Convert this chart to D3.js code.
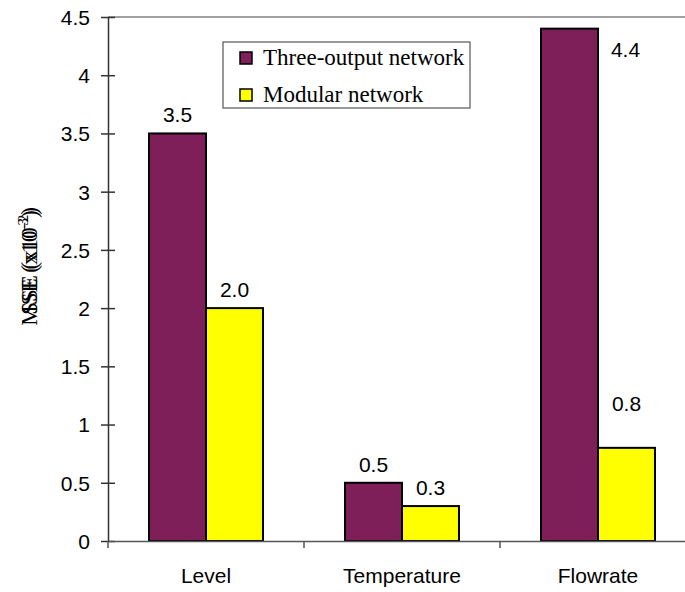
<!DOCTYPE html>
<html>
<head>
<meta charset="utf-8">
<script src="https://cdn.jsdelivr.net/npm/d3@7"></script>
<style>
  body { margin: 0; background: #fff; }
  svg { display: block; }
</style>
</head>
<body>
<svg id="chart" width="685" height="592"></svg>
<script>
// Error per output variable for the two network designs
const categories = ["Level", "Temperature", "Flowrate"];
const seriesNames = ["Three-output network", "Modular network"];
const threeOutput = [3.5, 0.5, 4.4];
const modular = [2.0, 0.3, 0.8];
const yTicks = [0, 0.5, 1, 1.5, 2, 2.5, 3, 3.5, 4, 4.5];

const colors = ["#7f1f5a", "#ffff00"];
const series = [threeOutput, modular];

// a couple of value labels are nudged off their bars
const labelNudge = { "0-2": [56, 39], "1-2": [0, -26] };

const svg = d3.select("#chart");
const plotLeft = 108, plotRight = 696, plotTop = 17, plotBottom = 541;
const sans = "Liberation Sans, Arial, sans-serif";
const serif = "Liberation Serif, Times New Roman, serif";

const x = d3.scaleBand().domain(categories).range([plotLeft, plotRight]).paddingInner(0).paddingOuter(0);
const xInner = d3.scaleBand().domain([0, 1]).range([0, x.bandwidth()]).paddingOuter(0.72).paddingInner(0);
const y = d3.scaleLinear().domain([0, 4.5]).range([plotBottom, plotTop]);

// top frame line
svg.append("line").attr("x1", plotLeft).attr("x2", 685).attr("y1", y(4.5)).attr("y2", y(4.5))
  .attr("stroke", "#808080").attr("stroke-width", 1.5);

// bars
series.forEach((vals, s) => {
  svg.append("g").selectAll("rect").data(vals).join("rect")
    .attr("x", (d, i) => x(categories[i]) + xInner(s))
    .attr("y", d => y(d))
    .attr("width", xInner.bandwidth())
    .attr("height", d => plotBottom - y(d))
    .attr("fill", colors[s])
    .attr("stroke", "#000")
    .attr("stroke-width", 2);
});

// value labels
series.forEach((vals, s) => {
  svg.append("g").selectAll("text").data(vals).join("text")
    .attr("x", (d, i) => x(categories[i]) + xInner(s) + xInner.bandwidth() / 2 + (labelNudge[s + "-" + i] || [0, 0])[0])
    .attr("y", (d, i) => y(d) - 11 + (labelNudge[s + "-" + i] || [0, 0])[1])
    .attr("text-anchor", "middle")
    .attr("font-family", sans)
    .attr("font-size", 21)
    .attr("fill", "#000")
    .text(d => d.toFixed(1));
});

// y axis
const yAxis = svg.append("g").attr("transform", `translate(${plotLeft},0)`)
  .call(d3.axisLeft(y).tickValues(yTicks).tickFormat(d => d).tickSize(7).tickSizeOuter(0));
yAxis.select(".domain").attr("stroke", "#333").attr("stroke-width", 1.5);
yAxis.selectAll(".tick line").attr("stroke", "#333").attr("stroke-width", 1.5).attr("x2", 7).attr("x1", -7);
yAxis.selectAll(".tick text").attr("x", -18).attr("dy", "0.35em")
  .attr("font-family", sans).attr("font-size", 21).attr("fill", "#000");

// x axis
const xAxis = svg.append("g").attr("transform", `translate(0,${plotBottom})`)
  .call(d3.axisBottom(x).tickSize(0).tickSizeOuter(0));
xAxis.select(".domain").attr("stroke", "#555").attr("stroke-width", 1.5);
xAxis.selectAll(".tick text").attr("y", 42).attr("dy", "0")
  .attr("font-family", sans).attr("font-size", 21).attr("fill", "#000");
// category boundary ticks
svg.append("g").selectAll("line").data(categories).join("line")
  .attr("x1", d => x(d)).attr("x2", d => x(d))
  .attr("y1", plotBottom).attr("y2", plotBottom + 7)
  .attr("stroke", "#555").attr("stroke-width", 1.5);

// y axis title (two overlapping captions)
const titles = [["MSE (x10", "-3", ")"], ["SSE (x10", "-2", ")"]];
titles.forEach((t, k) => {
  const tx = svg.append("text")
    .attr("transform", `translate(37,${268 - k * 7}) rotate(-90)`)
    .attr("text-anchor", "middle")
    .attr("font-family", serif)
    .attr("font-size", 23)
    .attr("fill", "#000");
  tx.append("tspan").text(t[0]);
  tx.append("tspan").attr("dy", -9).attr("font-size", 15).text(t[1]);
  tx.append("tspan").attr("dy", 9).text(t[2]);
});

// legend
const lg = svg.append("g").attr("transform", "translate(223,42)");
lg.append("rect").attr("width", 247).attr("height", 66).attr("fill", "#fff")
  .attr("stroke", "#555").attr("stroke-width", 1.2);
seriesNames.forEach((n, i) => {
  const row = lg.append("g").attr("transform", `translate(0,${16 + i * 37})`);
  row.append("rect").attr("x", 17).attr("y", -6).attr("width", 12).attr("height", 12)
    .attr("fill", colors[i]).attr("stroke", "#000").attr("stroke-width", 1.5);
  row.append("text").attr("x", 40).attr("y", 7)
    .attr("font-family", serif)
    .attr("font-size", 23).attr("fill", "#000").text(n);
});
</script>
</body>
</html>
